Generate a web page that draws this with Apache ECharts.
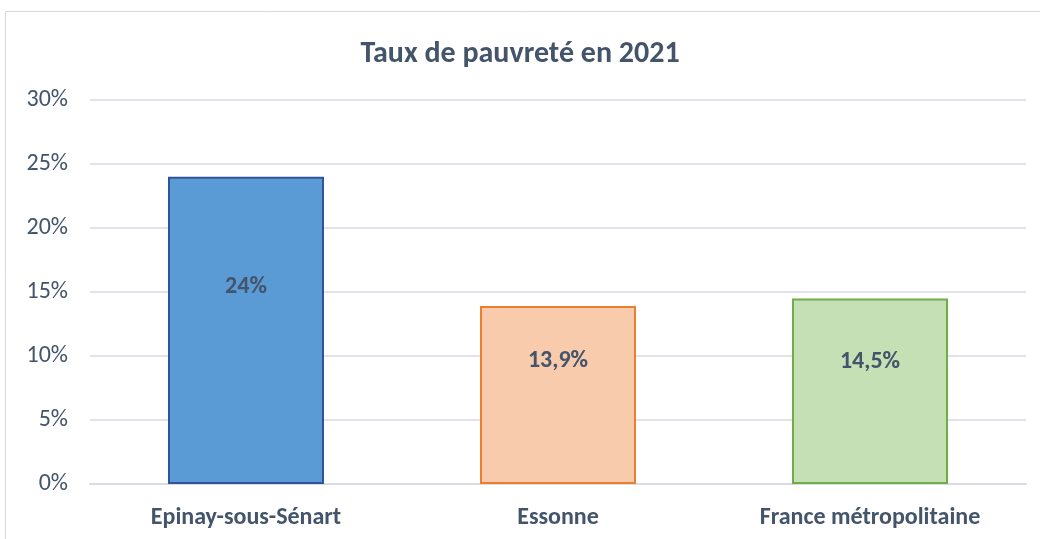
<!DOCTYPE html>
<html><head><meta charset="utf-8">
<script src="https://cdn.jsdelivr.net/npm/echarts@6/dist/echarts.min.js"></script>
<style>html,body{margin:0;padding:0;background:#fff}#c{width:1040px;height:539px}</style>
</head><body><div id="c"></div>
<script>
const title = 'Taux de pauvreté en 2021';
const categories = ['Epinay-sous-Sénart', 'Essonne', 'France métropolitaine'];
const values = [24, 13.9, 14.5];
const valueLabels = ['24%', '13,9%', '14,5%'];
const yTicks = [0, 5, 10, 15, 20, 25, 30];

const fills = ['#5B9BD5', '#F8CBAD', '#C5E0B4'];
const borders = ['#2F5597', '#ED7D31', '#70AD47'];
const labelPos = [['50%', '36%'], ['50%', '31%'], ['50%', '34%']];
const font = 'Carlito, "Open Sans", "Noto Sans", sans-serif';
const txt = '#44546A';

const chart = echarts.init(document.getElementById('c'), null, {renderer: 'canvas'});
chart.setOption({
  animation: false,
  title: {text: title, left: 'center', top: 34,
    textStyle: {fontFamily: font, fontSize: 30, fontWeight: 'bold', color: txt}},
  graphic: [{type: 'rect', shape: {x: 5.5, y: 11.5, width: 1100, height: 600},
    style: {fill: 'none', stroke: '#D9D9D9', lineWidth: 1}, silent: true}],
  grid: {left: 90, right: 14, top: 100, bottom: 55},
  xAxis: {type: 'category', data: categories,
    axisLine: {lineStyle: {color: '#D9DDE3', width: 2}}, axisTick: {show: false},
    axisLabel: {fontFamily: font, fontSize: 24, fontWeight: 'bold', color: txt, margin: 22}},
  yAxis: {type: 'value', min: yTicks[0], max: yTicks[yTicks.length - 1], interval: 5,
    axisLine: {show: false}, axisTick: {show: false},
    splitLine: {lineStyle: {color: '#E1E5EA', width: 2}},
    axisLabel: {fontFamily: font, fontSize: 24, color: txt, margin: 22,
      formatter: v => v + '%'}},
  series: [{type: 'bar', barWidth: '50%',
    data: values.map((v, i) => ({value: v,
      itemStyle: {color: fills[i], borderColor: borders[i], borderWidth: 2},
      label: {show: true, position: labelPos[i], align: 'center', verticalAlign: 'middle',
        formatter: valueLabels[i]}})),
    label: {fontFamily: font, fontSize: 24, fontWeight: 'bold', color: txt}}]
});
</script></body></html>
